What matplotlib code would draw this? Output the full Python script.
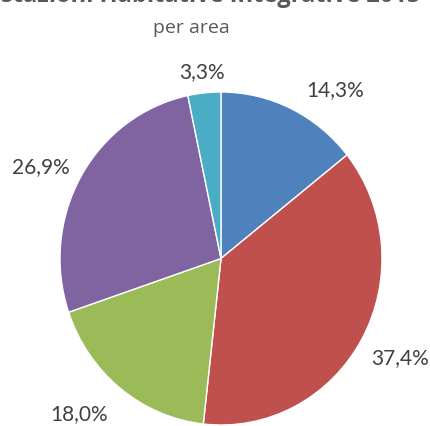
import numpy as np
import matplotlib
matplotlib.use("Agg")
import matplotlib.pyplot as plt

# quote per area, 2015
shares = [14.3, 37.4, 18.0, 26.9, 3.3]
colors = ["#4F81BD", "#C0504D", "#9BBB59", "#8064A2", "#4BACC6"]
title = "Prestazioni Habitative Integrative 2015"
subtitle = "per area"

# label placement (radius, angle shift in degrees) around each slice
label_dist = [1.24, 1.26, 1.28, 1.25, 1.13]
label_shift = [-9, 1, -4.7, 3.2, 0]

fig = plt.figure(figsize=(4.31, 4.27), dpi=100)
ax = fig.add_axes([60 / 431, 1 / 427, 322 / 431, 333 / 427])

wedges, texts = ax.pie(
    shares, colors=colors, startangle=90, counterclock=False,
    wedgeprops=dict(edgecolor="white", linewidth=1),
)
ax.set_aspect("auto")
ax.set_xlim(-1, 1)
ax.set_ylim(-1, 1)
ax.axis("off")

for w, val, d, s in zip(wedges, shares, label_dist, label_shift):
    mid = np.deg2rad((w.theta1 + w.theta2) / 2 + s)
    ax.text(d * np.cos(mid), d * np.sin(mid), f"{val:.1f}%".replace(".", ","),
            ha="center", va="center", fontsize=15, color="#404040",
            family="Lato")

fig.text(191 / 431, 1.010, title, ha="center", va="center",
         fontsize=17, fontweight="bold", color="#595959", family="Open Sans")
fig.text(191 / 431, 0.935, subtitle, ha="center", va="center",
         fontsize=14, color="#595959", family="Open Sans")

fig.savefig("out.png", dpi=100)
